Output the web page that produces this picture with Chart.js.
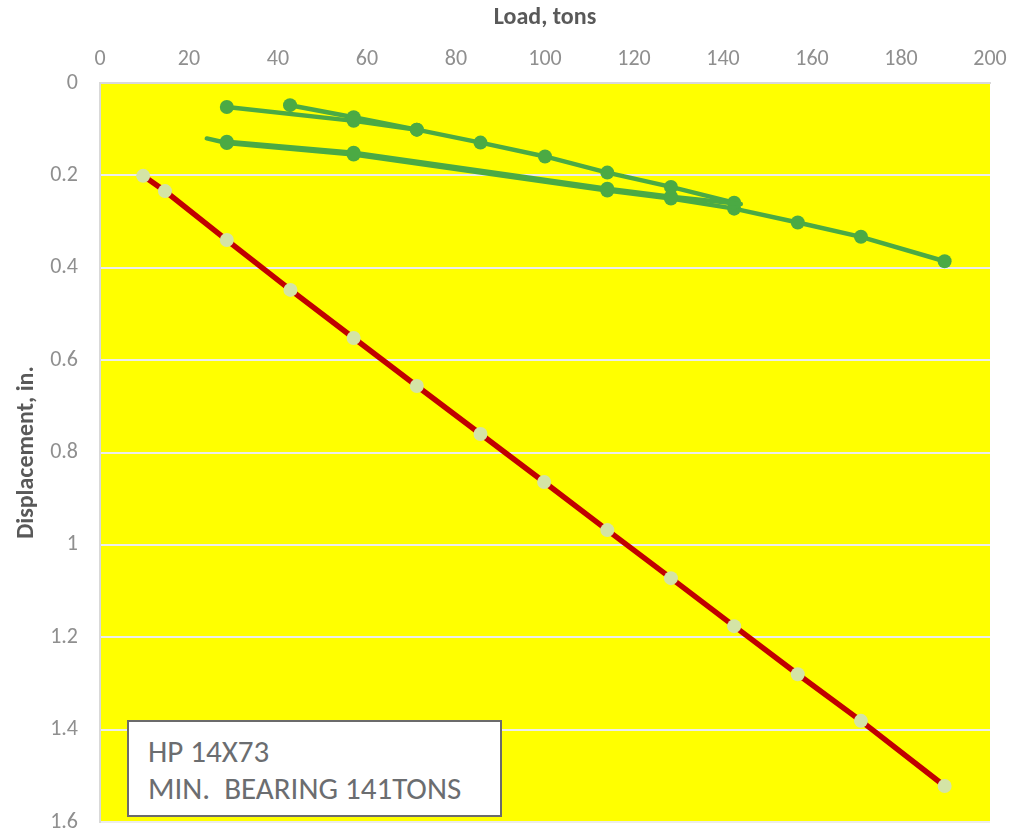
<!DOCTYPE html>
<html>
<head>
<meta charset="utf-8">
<title>Load vs Displacement</title>
<script src="https://cdn.jsdelivr.net/npm/chart.js@4"></script>
<style>
  html, body { margin: 0; padding: 0; background: #fff; }
  #wrap { position: relative; width: 1028px; height: 835px; }
  #note {
    position: absolute; left: 127px; top: 720px; width: 371px; height: 93px;
    border: 2px solid #6b6b6b; background: #fff; box-sizing: content-box;
    font-family: Carlito, Calibri, "Liberation Sans Narrow", "Liberation Sans", sans-serif;
    font-size: 31px; color: #6b6d70; line-height: 37px;
  }
  #note div { padding-left: 19px; }
</style>
</head>
<body>
<div id="wrap">
  <canvas id="loadChart" width="1028" height="835"></canvas>
  <div id="note">
    <div style="margin-top:11px">HP 14X73</div>
    <div>MIN.&nbsp; BEARING 141TONS</div>
  </div>
</div>
<script>
// axis ticks
const loadTicks = [0, 20, 40, 60, 80, 100, 120, 140, 160, 180, 200];
const dispTicks = [0, 0.2, 0.4, 0.6, 0.8, 1, 1.2, 1.4, 1.6];

// loading, first pass (tons / in.)
const loadA = [42.7, 57, 71.2, 85.5, 100, 114, 128.3, 142.5];
const dispA = [0.048, 0.074, 0.101, 0.129, 0.159, 0.194, 0.225, 0.259];

// short branch joining first pass
const loadB = [28.5, 57, 71.2];
const dispB = [0.052, 0.082, 0.101];

// unloading
const loadC = [144, 128.3, 114, 57, 28.5];
const dispC = [0.262, 0.246, 0.229, 0.151, 0.127];

// reloading to max test load
const loadD = [24, 28.5, 57, 114, 128.3, 142.5, 156.8, 171, 189.8];
const dispD = [0.12, 0.13, 0.155, 0.233, 0.25, 0.272, 0.302, 0.333, 0.386];

// elastic line
const loadE = [9.7, 14.6, 28.5, 42.8, 57, 71.2, 85.5, 99.8, 114, 128.3, 142.5, 156.8, 171, 189.8];
const dispE = [0.201, 0.234, 0.340, 0.448, 0.552, 0.656, 0.760, 0.864, 0.968, 1.072, 1.176, 1.280, 1.381, 1.522];

const GREEN = '#4BAA44';
const RED = '#C00000';
const PALE = '#D4E4A6';

function pts(xs, ys) {
  return xs.map((x, i) => ({ x: x, y: ys[i] }));
}

function greenSet(xs, ys, noMarkerFirst) {
  return {
    data: pts(xs, ys),
    showLine: true,
    borderColor: GREEN,
    backgroundColor: GREEN,
    borderWidth: 4.5,
    pointRadius: ctx => (noMarkerFirst && ctx.dataIndex === 0) ? 0 : 7,
    pointBorderWidth: 0,
    tension: 0,
    borderCapStyle: 'round'
  };
}

// yellow plot area
const plotBg = {
  id: 'plotBg',
  beforeDraw(chart) {
    const a = chart.chartArea;
    const c = chart.ctx;
    c.save();
    c.fillStyle = '#FFFF00';
    c.fillRect(a.left, a.top, a.right - a.left, a.bottom - a.top);
    c.restore();
  }
};

const FONT = "Carlito, Calibri, 'Liberation Sans Narrow', 'Liberation Sans', sans-serif";

new Chart(document.getElementById('loadChart').getContext('2d'), {
  type: 'scatter',
  data: {
    datasets: [
      {
        data: pts(loadE, dispE),
        showLine: true,
        borderColor: RED,
        backgroundColor: PALE,
        borderWidth: 5.5,
        pointRadius: 7,
        pointBorderWidth: 0,
        tension: 0
      },
      greenSet(loadC, dispC, true),
      greenSet(loadB, dispB, false),
      greenSet(loadA, dispA, false),
      greenSet(loadD, dispD, true)
    ]
  },
  plugins: [plotBg],
  options: {
    responsive: false,
    animation: false,
    layout: { padding: { left: 0, right: 38, top: 0, bottom: 13 } },
    plugins: {
      legend: { display: false },
      tooltip: { enabled: false }
    },
    scales: {
      x: {
        type: 'linear',
        position: 'top',
        min: 0, max: 200,
        afterBuildTicks: s => { s.ticks = loadTicks.map(v => ({ value: v })); },
        afterFit: s => { s.height = 83; s.paddingLeft = 0; s.paddingRight = 0; },
        grid: { display: false, drawTicks: false },
        border: { display: true, color: '#d9d9d9', width: 2 },
        ticks: { color: '#8f8f8f', font: { family: FONT, size: 22 }, padding: 10 },
        title: {
          display: true, text: 'Load, tons', color: '#595959',
          font: { family: FONT, size: 24, weight: 'bold' }, padding: { top: 4, bottom: 2 }
        }
      },
      y: {
        type: 'linear',
        reverse: true,
        min: 0, max: 1.6,
        afterBuildTicks: s => { s.ticks = dispTicks.map(v => ({ value: v })); },
        afterFit: s => { s.width = 100; s.paddingTop = 0; s.paddingBottom = 0; },
        grid: { color: '#ececec', lineWidth: 2, drawTicks: false },
        border: { display: true, color: '#d9d9d9', width: 2 },
        ticks: {
          color: '#8f8f8f', font: { family: FONT, size: 22 }, padding: 22,
          callback: v => String(v)
        },
        title: {
          display: true, text: 'Displacement, in.', color: '#595959',
          font: { family: FONT, size: 24, weight: 'bold' }, padding: { top: 13, bottom: 10 }
        }
      }
    }
  }
});
</script>
</body>
</html>
